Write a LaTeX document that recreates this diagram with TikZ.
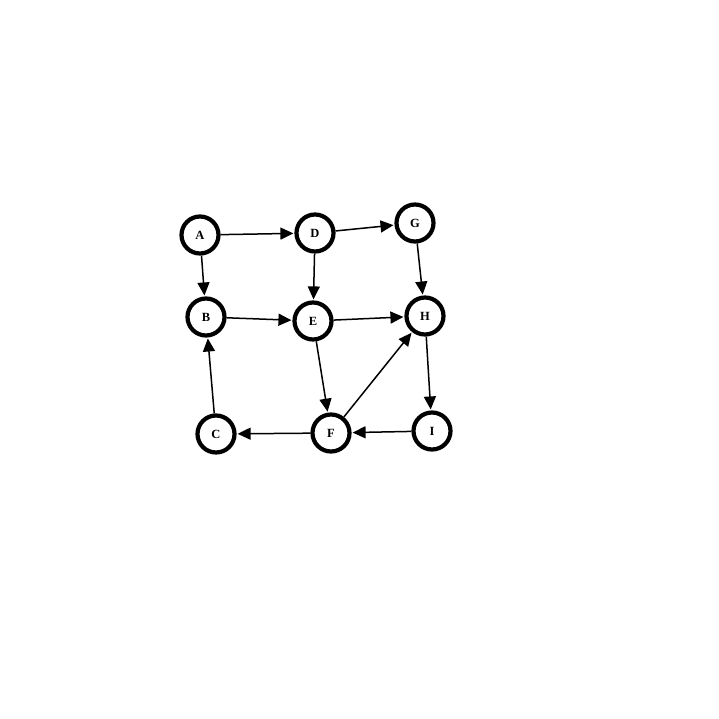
\documentclass[tikz,border=0pt]{standalone}
\usepackage{fontspec}
\setmainfont{Liberation Serif}
\usetikzlibrary{arrows.meta}
\begin{document}
\begin{tikzpicture}[x=1pt,y=-1pt,
  vert/.style={circle,draw,line width=4.2pt,minimum size=37pt,inner sep=0pt,font=\fontsize{12.5}{13}\selectfont\bfseries},
  edge/.style={-{Triangle[length=13pt,width=12pt]},line width=1.5pt,shorten >=1pt}]
\useasboundingbox (0,0) rectangle (719,719);
\node[vert] (A) at (200,235) {A};
\node[vert] (D) at (315,233) {D};
\node[vert] (G) at (415,223) {G};
\node[vert] (B) at (206,317) {B};
\node[vert] (E) at (313,321) {E};
\node[vert] (H) at (425,316) {H};
\node[vert] (C) at (216,434) {C};
\node[vert] (F) at (331,433) {F};
\node[vert] (I) at (432,431) {I};
\draw[edge] (A) -- (D);
\draw[edge] (A) -- (B);
\draw[edge] (D) -- (G);
\draw[edge] (D) -- (E);
\draw[edge] (G) -- (H);
\draw[edge] (B) -- (E);
\draw[edge] (E) -- (H);
\draw[edge] (E) -- (F);
\draw[edge] (F) -- (H);
\draw[edge] (H) -- (I);
\draw[edge] (I) -- (F);
\draw[edge] (F) -- (C);
\draw[edge] (C) -- (B);
\end{tikzpicture}
\end{document}
